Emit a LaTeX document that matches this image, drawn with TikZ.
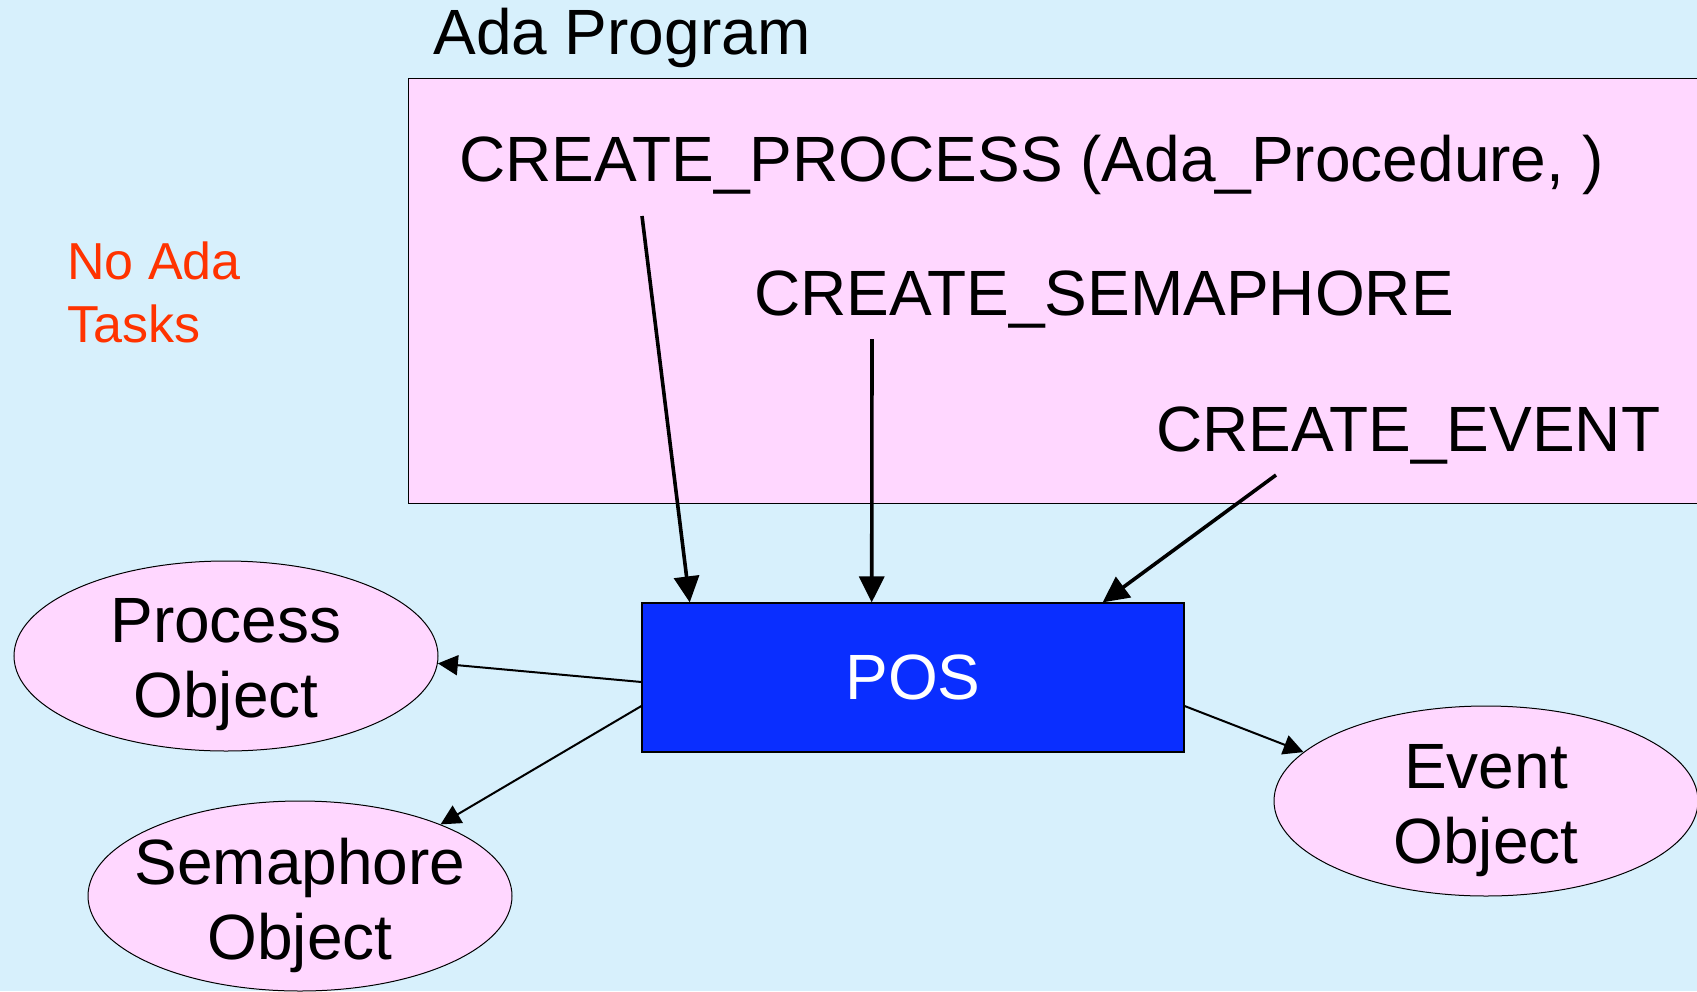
\documentclass[tikz,border=0pt]{standalone}
\usepackage{fontspec}
\setmainfont{Liberation Sans}
\usetikzlibrary{shapes.geometric,arrows.meta,calc}
\definecolor{bgblue}{HTML}{D7F0FC}
\definecolor{lightpink}{HTML}{FFD7FF}
\definecolor{posblue}{HTML}{0A2EFF}
\definecolor{notered}{HTML}{FF3300}
\begin{document}
\begin{tikzpicture}[x=0.5pt,y=-0.5pt,
  lbl/.style={inner sep=0pt, anchor=base west, font=\fontsize{32}{38}\selectfont},
  redlbl/.style={inner sep=0pt, anchor=base west, text=notered, font=\fontsize{26}{31}\selectfont},
  progbox/.style={draw, line width=0.6pt, fill=lightpink, anchor=north west, inner sep=0pt},
  posbox/.style={draw, line width=0.6pt, fill=posblue, text=white, inner sep=0pt,
    minimum width=271pt, minimum height=74.5pt, font=\fontsize{32}{38}\selectfont},
  obj/.style={ellipse, draw, line width=0.5pt, fill=lightpink, inner sep=0pt,
    minimum width=212pt, minimum height=95pt},
  objtext/.style={inner sep=0pt, align=center, font=\fontsize{32}{37.5}\selectfont},
  toparrow/.style={line width=1.8pt, -{Triangle[length=13pt,width=12.5pt]}},
  botarrow/.style={line width=1pt, -{Triangle[length=10pt,width=10pt]}}
]
\useasboundingbox (0,0) rectangle (1697,991);
\fill[bgblue] (0,0) rectangle (1697,991);

\node[progbox, minimum width=656pt, minimum height=212.5pt] (prog) at (408,78) {};

\node[lbl] (title) at (433,54) {Ada Program};
\node[lbl] (cp) at (459,181) {CREATE\_PROCESS (Ada\_Procedure, )};
\node[lbl] (cs) at (754,315) {CREATE\_SEMAPHORE};
\node[lbl] (ce) at (1156,451) {CREATE\_EVENT};

\node[redlbl] (noada1) at (67,279) {No Ada};
\node[redlbl] (noada2) at (67,342) {Tasks};

\node[posbox] (pos) at (913,677.5) {POS};

\node[obj] (procobj) at (226,656) {};
\node[obj] (semobj) at (300,896) {};
\node[obj] (evobj) at (1486,801) {};
\node[objtext] (proctext) at ([yshift=-4.5pt]procobj.center) {Process\\Object};
\node[objtext] (semtext) at ([yshift=-4.5pt]semobj.center) {Semaphore\\Object};
\node[objtext] (evtext) at ([yshift=-5pt]evobj.center) {Event\\Object};

\coordinate (a1) at (642,216);
\coordinate (a2) at (872,339);
\coordinate (a3) at (1276,475);

\draw[toparrow] (a1) -- ($(pos.north west)!0.089!(pos.north east)$);
\draw[toparrow] (a2) -- ($(pos.north west)!0.424!(pos.north east)$);
\draw[toparrow] (a3) -- ($(pos.north west)!0.849!(pos.north east)$);

\draw[botarrow] ([yshift=-2.25pt]pos.west) -- (procobj.-2);
\draw[botarrow] ([yshift=-14.25pt]pos.west) -- (semobj.27);
\draw[botarrow] ([yshift=-14.25pt]pos.east) -- (evobj.165);
\end{tikzpicture}
\end{document}
